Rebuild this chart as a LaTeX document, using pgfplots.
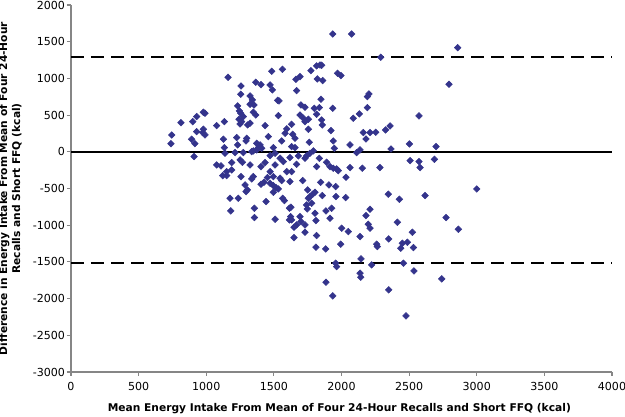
\documentclass[border=0pt]{standalone}
\usepackage{fontspec}
\setmainfont{DejaVu Sans}
\usepackage{pgfplots}
\pgfplotsset{compat=1.18}
\usepackage{pgfplotstable}
\definecolor{markblue}{RGB}{52,52,140}
\definecolor{axgray}{RGB}{134,134,134}

\pgfplotstableread{
x y
813 397
745 229
739 111
1161 1015
1257 897
1366 947
1405 915
1484 1097
1563 1124
1472 911
1489 843
1255 784
1324 761
1341 707
1324 647
1353 638
1528 702
1538 693
1232 625
1245 557
1255 525
1366 502
1348 539
1274 480
1242 443
1262 411
1250 380
1324 389
1306 366
1533 493
979 539
991 525
929 480
900 411
1134 411
1077 357
929 275
979 307
991 230
974 262
1435 357
1595 312
1583 252
892 171
916 112
910 -65
1127 171
1225 194
1299 184
1294 148
1459 207
1134 57
1232 94
1558 148
1373 116
1398 94
1385 57
1348 12
1373 26
1410 48
1496 57
1139 -20
1213 -11
1274 -11
1336 3
1509 -20
1546 -88
1570 -133
1472 -52
1077 -179
1109 -192
1188 -147
1250 -110
1267 -142
1324 -179
1405 -202
1435 -147
1509 -179
1151 -270
1188 -247
1595 -270
1472 -270
1935 1605
2075 1605
2290 1288
1668 834
1663 988
1693 1024
1774 1106
1816 1170
1841 1183
1853 1179
1821 993
1861 970
1971 1070
1996 1038
2203 788
2191 752
1848 716
1700 638
1730 607
1935 593
1799 593
1836 602
1816 511
1693 502
1718 457
1755 443
1730 411
1853 434
1858 366
1631 375
2132 516
2087 457
2191 602
1755 307
1922 289
2161 262
2211 262
2253 266
2326 298
1639 239
1656 184
1762 130
1939 148
2181 175
2063 94
1631 71
1656 57
1947 48
2137 26
2112 -11
1792 12
1767 -20
1742 -56
1730 -88
1681 -56
1619 -79
1890 -142
1915 -202
1939 -224
1964 -233
1976 -256
1836 -88
1816 -202
2063 -215
2154 -224
2284 -215
1668 -170
1631 -270
2859 1419
2795 920
2573 489
2359 352
2366 39
2502 107
2699 71
2507 -120
2573 -133
2581 -215
2687 -102
1122 -324
1151 -324
1257 -338
1336 -369
1348 -338
1452 -351
1496 -338
1546 -360
1558 -392
1287 -451
1405 -442
1427 -415
1472 -429
1496 -460
1516 -488
1533 -506
1304 -519
1294 -542
1496 -551
1176 -633
1237 -633
1565 -633
1442 -678
1578 -665
1181 -805
1356 -769
1615 -769
1356 -896
1509 -919
1615 -928
1619 -406
1713 -392
1750 -519
1846 -415
1907 -451
1957 -474
2033 -347
1804 -551
1787 -578
1767 -610
1755 -633
1858 -596
1959 -610
2031 -624
1626 -755
1742 -724
1779 -701
1747 -778
1624 -883
1631 -928
1693 -883
1700 -951
1668 -996
1649 -1028
1730 -996
1804 -837
1811 -937
1885 -805
1927 -769
1915 -905
2001 -1041
2050 -1087
1730 -1096
1649 -1169
1816 -1141
1994 -1259
1811 -1300
1883 -1323
2137 -1155
2181 -869
2211 -783
2198 -987
2211 -1041
2260 -1259
2265 -1291
2346 -578
2349 -1187
2144 -1459
2137 -1654
2142 -1709
1957 -1518
1964 -1564
2223 -1541
1885 -1777
1935 -1963
2349 -1881
2428 -646
2618 -596
3000 -506
2773 -896
2864 -1055
2413 -960
2524 -1096
2450 -1246
2487 -1232
2438 -1314
2532 -1305
2458 -1518
2536 -1623
2741 -1731
2477 -2235
}\pts

\begin{document}
\begin{tikzpicture}
\useasboundingbox (-53.25pt,-33.75pt) rectangle (415.5pt,279pt);
\begin{axis}[
  at={(0,0)}, anchor=south west,
  scale only axis,
  width=405.75pt, height=275.25pt,
  xmin=0, xmax=4000, ymin=-3000, ymax=2000,
  xtick={0,500,...,4000},
  ytick={-3000,-2500,...,2000},
  xticklabels={0,500,1000,1500,2000,2500,3000,3500,4000},
  yticklabels={-3000,-2500,-2000,-1500,-1000,-500,0,500,1000,1500,2000},
  axis x line=bottom, axis y line=left,
  axis line style={-, axgray, line width=0.8pt},
  tick style={axgray, line width=0.8pt},
  tick align=outside,
  major tick length=3pt,
  ticklabel style={font=\fontsize{8.3}{10}\selectfont, text=black},
  xticklabel style={yshift=-1.5pt},
  yticklabel style={xshift=2pt},
  xlabel={Mean Energy Intake From Mean of Four 24-Hour Recalls and Short FFQ (kcal)},
  ylabel={Difference in Energy Intake From Mean of Four 24-Hour\\Recalls and Short FFQ (kcal)},
  label style={font=\fontsize{8}{9.8}\selectfont\bfseries},
  xlabel style={at={(axis description cs:0.496,-0.1)}, anchor=center},
  ylabel style={at={(axis description cs:-0.112,0.5)}, anchor=center, align=center},
  clip=false,
]
\addplot[black, line width=1.1pt] coordinates {(0,0) (4000,0)};
\addplot[black, line width=1.6pt, dash pattern=on 10pt off 5pt] coordinates {(0,1290) (4000,1290)};
\addplot[black, line width=1.6pt, dash pattern=on 10pt off 5pt] coordinates {(0,-1520) (4000,-1520)};
\addplot[only marks, mark=square*, mark size=1.75pt, color=markblue,
  mark options={rotate=45, fill=markblue, draw=markblue}] table[x=x, y=y] {\pts};
\end{axis}
\end{tikzpicture}
\end{document}
